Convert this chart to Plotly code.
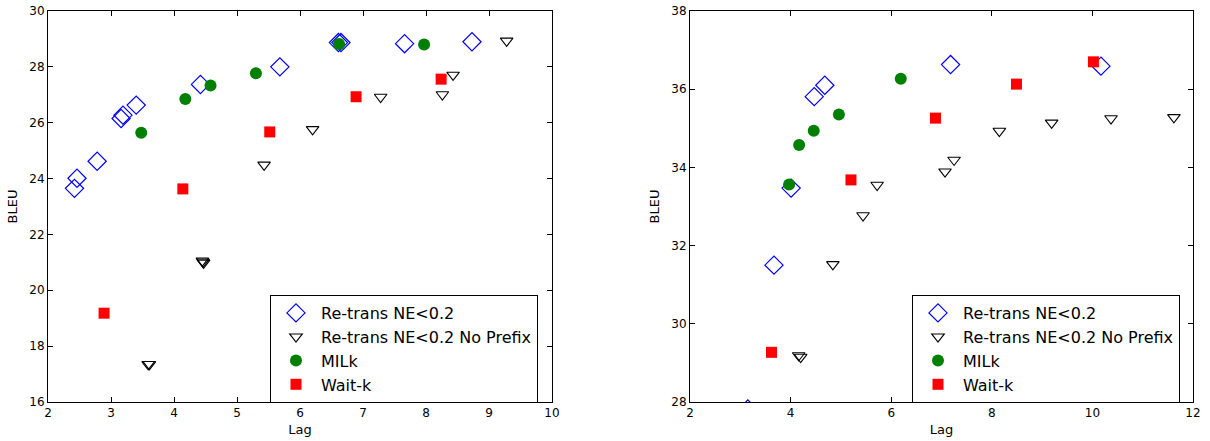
import plotly.graph_objects as go

# ---------------- Left panel data ----------------
L_retrans_x = [2.42, 2.46, 2.78, 3.16, 3.19, 3.40, 4.42, 5.68, 6.61, 6.65, 7.66, 8.73]
L_retrans_y = [23.65, 24.01, 24.62, 26.15, 26.27, 26.63, 27.37, 28.00, 28.87, 28.87, 28.83, 28.90]
L_noprefix_x = [3.36, 3.59, 3.61, 4.45, 4.46, 4.47, 5.43, 6.20, 7.28, 8.26, 8.43, 9.28]
L_noprefix_y = [15.84, 17.35, 17.35, 21.06, 21.02, 20.98, 24.49, 25.76, 26.92, 27.01, 27.71, 28.93]
L_milk_x = [3.48, 4.18, 4.58, 5.30, 6.62, 7.97]
L_milk_y = [25.64, 26.85, 27.33, 27.77, 28.82, 28.80]
L_waitk_x = [2.89, 4.14, 5.52, 6.89, 8.24]
L_waitk_y = [19.18, 23.63, 25.67, 26.93, 27.56]

# ---------------- Right panel data ----------------
R_retrans_x = [3.15, 3.67, 4.01, 4.47, 4.68, 7.18, 10.17]
R_retrans_y = [27.82, 31.50, 33.47, 35.81, 36.10, 36.63, 36.59]
R_noprefix_x = [4.16, 4.20, 4.84, 5.44, 5.72, 7.07, 7.25, 8.15, 9.19, 10.37, 11.62]
R_noprefix_y = [29.19, 29.15, 31.52, 32.77, 33.55, 33.89, 34.19, 34.93, 35.14, 35.25, 35.28]
R_milk_x = [3.97, 4.17, 4.46, 4.96, 6.19]
R_milk_y = [33.56, 34.57, 34.94, 35.35, 36.27]
R_waitk_x = [3.62, 5.20, 6.88, 8.49, 10.02]
R_waitk_y = [29.27, 33.68, 35.26, 36.13, 36.70]

names = ["Re-trans NE<0.2", "Re-trans NE<0.2 No Prefix", "MILk", "Wait-k"]
markers = [
    dict(symbol="diamond-open", size=14, color="#0000ff", line=dict(width=1.2, color="#0000ff")),
    dict(symbol="triangle-down-open", size=11, color="black", line=dict(width=1.1, color="black")),
    dict(symbol="circle", size=12, color="#008000", line=dict(width=0)),
    dict(symbol="square", size=11, color="#ff0000", line=dict(width=0)),
]

W, H = 1210, 441
T, B = 11, 39
PH = H - T - B
BOTTOM = H - B

fig = go.Figure()

left = [(L_retrans_x, L_retrans_y), (L_noprefix_x, L_noprefix_y), (L_milk_x, L_milk_y), (L_waitk_x, L_waitk_y)]
right = [(R_retrans_x, R_retrans_y), (R_noprefix_x, R_noprefix_y), (R_milk_x, R_milk_y), (R_waitk_x, R_waitk_y)]

for (xs, ys), nm, mk in zip(left, names, markers):
    fig.add_trace(go.Scatter(x=xs, y=ys, mode="markers", name=nm, marker=mk,
                             xaxis="x", yaxis="y", legend="legend"))
for (xs, ys), nm, mk in zip(right, names, markers):
    fig.add_trace(go.Scatter(x=xs, y=ys, mode="markers", name=nm, marker=mk,
                             xaxis="x2", yaxis="y2", legend="legend2"))

axis_common = dict(showgrid=False, zeroline=False, showline=True, linecolor="black", linewidth=1,
                   mirror="ticks", ticks="inside", ticklen=5, tickcolor="black", automargin=False,
                   ticklabeloverflow="allow",
                   tickfont=dict(family="DejaVu Sans", size=12, color="black"))

xt = dict(text="Lag", standoff=5, font=dict(family="DejaVu Sans", size=13, color="black"))
yt = dict(text="BLEU", standoff=8, font=dict(family="DejaVu Sans", size=13, color="black"))

leg_common = dict(xanchor="left", yanchor="top", bgcolor="white", bordercolor="black", borderwidth=1,
                  font=dict(family="DejaVu Sans", size=16, color="black"),
                  tracegroupgap=0, itemwidth=40)

fig.update_layout(
    width=W, height=H,
    margin=dict(l=0, r=0, t=T, b=B, autoexpand=False),
    paper_bgcolor="white", plot_bgcolor="white",
    font=dict(family="DejaVu Sans", size=12, color="black"),
    xaxis=dict(domain=[48/W, 552/W], range=[2, 10], dtick=1, anchor="y", title=xt, **axis_common),
    yaxis=dict(domain=[0, 1], range=[16, 30], dtick=2, anchor="x", title=yt, **axis_common),
    xaxis2=dict(domain=[690/W, 1193/W], range=[2, 12], dtick=2, anchor="y2", title=xt, **axis_common),
    yaxis2=dict(domain=[0, 1], range=[28, 38], dtick=2, anchor="x2", title=yt, **axis_common),
    legend=dict(x=270/W, y=(BOTTOM-295)/PH, **leg_common),
    legend2=dict(x=912/W, y=(BOTTOM-295)/PH, **leg_common),
)

# remove the browser's default 8px body margin so the figure fills the window exactly
fig.write_html("out.html", config={"displayModeBar": False},
               post_script="document.body.style.margin='0px';")
